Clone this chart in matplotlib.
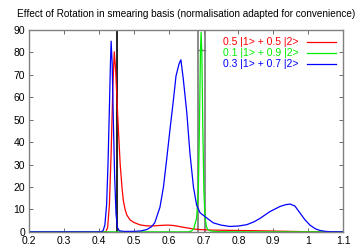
import matplotlib
matplotlib.use("Agg")
import matplotlib.pyplot as plt

plt.rcParams['font.family'] = ['Liberation Sans', 'DejaVu Sans']

# series
red_x = [0.2, 0.42, 0.425, 0.43, 0.435, 0.44, 0.444, 0.448, 0.452, 0.456, 0.461, 0.466, 0.47, 0.475,
         0.48, 0.489, 0.5, 0.518, 0.535, 0.55, 0.57, 0.594, 0.61, 0.623, 0.64, 0.651, 0.67, 0.69,
         0.72, 0.76, 0.8, 0.85, 0.9, 0.95, 1.0, 1.1]
red_y = [0, 0, 2, 12, 35, 65, 80.3, 72, 58, 45, 30, 20, 14, 10,
         7.5, 5.4, 4.2, 3.1, 2.7, 2.6, 2.8, 3.0, 2.9, 2.6, 2.1, 1.8, 1.3, 1.0,
         0.8, 0.7, 0.6, 0.5, 0.35, 0.2, 0.05, 0]
green_x = [0.2, 0.655, 0.665, 0.672, 0.68, 0.685, 0.688, 0.691, 0.693, 0.695, 0.698, 0.701,
           0.704, 0.708, 0.712, 0.72, 0.74, 0.8, 1.1]
green_y = [0, 0, 0.3, 1.5, 6, 18, 45, 80, 89, 80, 45, 18, 7, 2.5, 1.0, 0.4, 0.1, 0, 0]
blue_x = [0.2, 0.405, 0.412, 0.417, 0.422, 0.426, 0.43, 0.433, 0.435, 0.438, 0.441, 0.445, 0.449,
          0.453, 0.458, 0.47, 0.5, 0.52, 0.537, 0.55, 0.56, 0.575, 0.585, 0.594, 0.604, 0.613,
          0.621, 0.625, 0.63, 0.635, 0.642, 0.652, 0.661, 0.671, 0.68, 0.69, 0.709, 0.728,
          0.75, 0.776, 0.8, 0.824, 0.845, 0.862, 0.89, 0.919, 0.935, 0.948, 0.962, 0.976,
          0.99, 1.005, 1.02, 1.034, 1.05, 1.065, 1.1]
blue_y = [0, 0, 0.5, 3, 12, 30, 55, 75, 85, 75, 52, 25, 8,
          2, 0.5, 0.2, 0.2, 0.4, 1, 2.2, 4, 11, 20, 32, 46, 58,
          69.5, 72, 75, 76.7, 68, 53, 35, 20, 12, 8.5, 6.2, 4,
          3, 2.4, 2.6, 3.2, 4.5, 6, 9, 11.3, 12.1, 12.4, 11.5, 8.5,
          5.5, 3, 1.4, 0.6, 0.2, 0.05, 0]
labels = ['0.5 |1> + 0.5 |2>', '0.1 |1> + 0.9 |2>', '0.3 |1> + 0.7 |2>']
black_line_x = 0.453
gray_lines_x = [0.683, 0.704]
gray_bar_y = 81

fig, ax = plt.subplots(figsize=(3.6, 2.52), dpi=100)
fig.subplots_adjust(left=0.081, right=0.953, top=0.881, bottom=0.08)

ax.axvline(black_line_x, color='black', lw=1.2)
for gx in gray_lines_x:
    ax.axvline(gx, color='#777777', lw=1.2)
ax.plot(gray_lines_x, [gray_bar_y, gray_bar_y], color='#777777', lw=1.0)

ax.plot(red_x, red_y, color='#ff0000', lw=0.9, label=labels[0])
ax.plot(green_x, green_y, color='#00ee00', lw=0.9, label=labels[1])
ax.plot(blue_x, blue_y, color='#0000ff', lw=0.9, label=labels[2])

ax.set_xlim(0.2, 1.1)
ax.set_ylim(0, 90)
ax.set_xticks([0.2, 0.3, 0.4, 0.5, 0.6, 0.7, 0.8, 0.9, 1, 1.1])
ax.set_xticklabels(['0.2', '0.3', '0.4', '0.5', '0.6', '0.7', '0.8', '0.9', '1', '1.1'])
ax.set_yticks(range(0, 91, 10))
ax.tick_params(direction='in', top=True, right=True, labelsize=7.5, length=3,
               width=0.6, color='#555555', pad=3)
for s in ax.spines.values():
    s.set_color('#808080')
    s.set_linewidth(1.0)

ax.set_title('Effect of Rotation in smearing basis (normalisation adapted for convenience)',
             fontsize=7.2, pad=9)
ax.legend(loc='upper right', markerfirst=False, frameon=False, labelcolor='linecolor',
          fontsize=7.5, handlelength=2.8, labelspacing=0.1, handletextpad=0.8,
          borderaxespad=0.3)

fig.savefig('out.png', dpi=100)
